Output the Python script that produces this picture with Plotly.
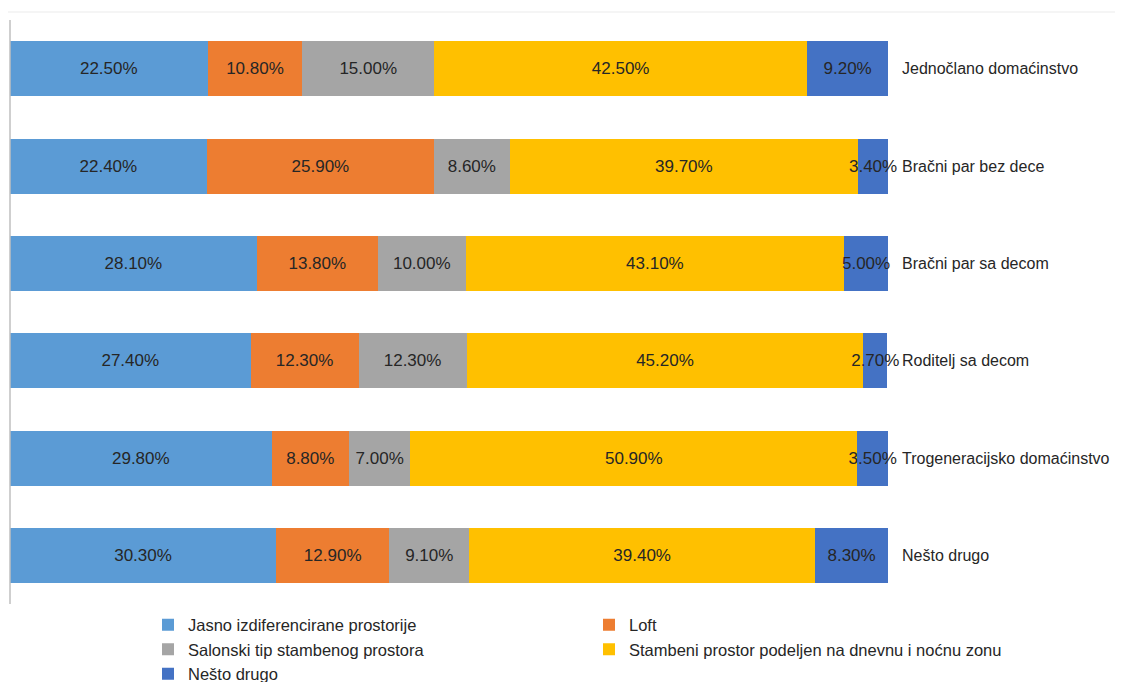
import plotly.graph_objects as go

categories = ["Jednočlano domaćinstvo", "Bračni par bez dece", "Bračni par sa decom",
              "Roditelj sa decom", "Trogeneracijsko domaćinstvo", "Nešto drugo"]
series_names = ["Jasno izdiferencirane prostorije", "Loft", "Salonski tip stambenog prostora",
                "Stambeni prostor podeljen na dnevnu i noćnu zonu", "Nešto drugo"]
jasno = [22.5, 22.4, 28.1, 27.4, 29.8, 30.3]
loft = [10.8, 25.9, 13.8, 12.3, 8.8, 12.9]
salonski = [15.0, 8.6, 10.0, 12.3, 7.0, 9.1]
stambeni = [42.5, 39.7, 43.1, 45.2, 50.9, 39.4]
nesto = [9.2, 3.4, 5.0, 2.7, 3.5, 8.3]
colors = ["#5B9BD5", "#ED7D31", "#A5A5A5", "#FFC000", "#4472C4"]

FONT = "Liberation Sans, Arial, sans-serif"
W, H = 1115, 674          # page body has an 8px margin
L, R, T, B = 2, 235, 12, 78
PW, PH = W - L - R, H - T - B

fig = go.Figure()
for name, vals, col in zip(series_names, [jasno, loft, salonski, stambeni, nesto], colors):
    fig.add_trace(go.Bar(
        y=categories, x=vals, name=name, orientation="h",
        marker=dict(color=col, line=dict(width=0)),
        texttemplate="%{x:.2f}%", textposition="inside", insidetextanchor="middle",
        textangle=0, constraintext="none", cliponaxis=False,
        insidetextfont=dict(family=FONT, size=17, color="#262626"),
        hoverinfo="skip",
    ))

fig.update_layout(
    barmode="stack", bargap=0.435,
    width=W, height=H,
    margin=dict(l=L, r=R, t=T, b=B, autoexpand=False),
    paper_bgcolor="white", plot_bgcolor="white",
    font=dict(family=FONT, size=17, color="#262626"),
    xaxis=dict(range=[0, 100], showgrid=False, zeroline=False, showticklabels=False,
               showline=False, fixedrange=True, automargin=False),
    yaxis=dict(autorange="reversed", side="right", showgrid=False, zeroline=False,
               showline=False, ticks="", ticklabelstandoff=13, automargin=False,
               tickfont=dict(family=FONT, size=16, color="#262626")),
    legend=dict(orientation="h", traceorder="normal", entrywidth=396, entrywidthmode="pixels",
                xref="container", yref="container", x=140 / W, xanchor="left",
                y=1 - 599.5 / H, yanchor="top",
                font=dict(family=FONT, size=16.5, color="#262626"),
                itemwidth=30, tracegroupgap=0),
    showlegend=True,
    shapes=[
        dict(type="line", xref="paper", yref="paper", x0=0, x1=0, y0=0, y1=1,
             line=dict(color="#bfbfbf", width=1.5)),
        dict(type="line", xref="paper", yref="paper", x0=-5 / PW, x1=(W - L) / PW,
             y0=1 + 8 / PH, y1=1 + 8 / PH, line=dict(color="#ebebeb", width=1)),
    ],
)
fig.write_html("out.html")
